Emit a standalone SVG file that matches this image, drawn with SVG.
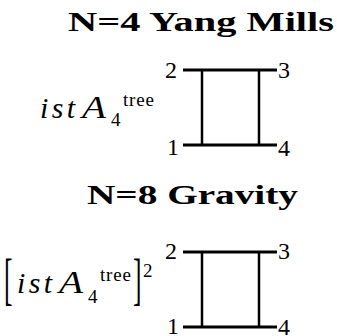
<svg xmlns="http://www.w3.org/2000/svg" width="337" height="336" viewBox="0 0 337 336">
<style>
text{font-family:"Liberation Serif",serif;fill:#000}
.title{font-weight:bold;font-size:28px}
.it{font-style:italic;font-size:30px}
.A{font-style:italic;font-size:31px}
.rm{font-size:19px}
.lbl{font-size:24px}
.br{font-size:32px}
.ln{stroke:#000;stroke-width:3;fill:none}
.vl{stroke:#000;stroke-width:2.5;fill:none}
</style>
<rect width="337" height="336" fill="#fff"/>
<g id="title1"><text class="title" x="68" y="31" textLength="266" lengthAdjust="spacingAndGlyphs">N=4 Yang Mills</text></g>
<g id="formula1">
<text class="it" x="40" y="118" textLength="35" lengthAdjust="spacing">ist</text>
<text class="A" x="82" y="118" textLength="24" lengthAdjust="spacingAndGlyphs">A</text>
<text class="rm" x="111" y="126">4</text>
<text class="rm" x="123" y="106" textLength="31" lengthAdjust="spacing">tree</text>
</g>
<g id="box1">
<g class="connectors">
<line class="ln" x1="183" y1="70" x2="277" y2="70"/>
<line class="ln" x1="183" y1="145" x2="277" y2="145"/>
<line class="vl" x1="202" y1="70" x2="202" y2="145"/>
<line class="vl" x1="259" y1="70" x2="259" y2="145"/>
</g>
<text class="lbl" x="165" y="78">2</text>
<text class="lbl" x="278" y="78">3</text>
<text class="lbl" x="167" y="155">1</text>
<text class="lbl" x="278" y="156">4</text>
</g>
<g id="title2"><text class="title" x="87" y="204" textLength="211" lengthAdjust="spacingAndGlyphs">N=8 Gravity</text></g>
<g id="formula2">
<text class="br" transform="translate(4,298) scale(0.8,1.75)">[</text>
<text class="it" x="17" y="293" textLength="35" lengthAdjust="spacing">ist</text>
<text class="A" x="59" y="293" textLength="24" lengthAdjust="spacingAndGlyphs">A</text>
<text class="rm" x="88" y="303">4</text>
<text class="rm" x="100" y="281" textLength="31" lengthAdjust="spacing">tree</text>
<text class="br" transform="translate(133,298) scale(0.8,1.75)">]</text>
<text class="rm" x="143" y="277">2</text>
</g>
<g id="box2">
<g class="connectors">
<line class="ln" x1="183" y1="252" x2="277" y2="252"/>
<line class="ln" x1="183" y1="327" x2="277" y2="327"/>
<line class="vl" x1="202" y1="252" x2="202" y2="327"/>
<line class="vl" x1="259" y1="252" x2="259" y2="327"/>
</g>
<text class="lbl" x="165" y="259">2</text>
<text class="lbl" x="278" y="259">3</text>
<text class="lbl" x="167" y="334">1</text>
<text class="lbl" x="278" y="335">4</text>
</g>
</svg>
